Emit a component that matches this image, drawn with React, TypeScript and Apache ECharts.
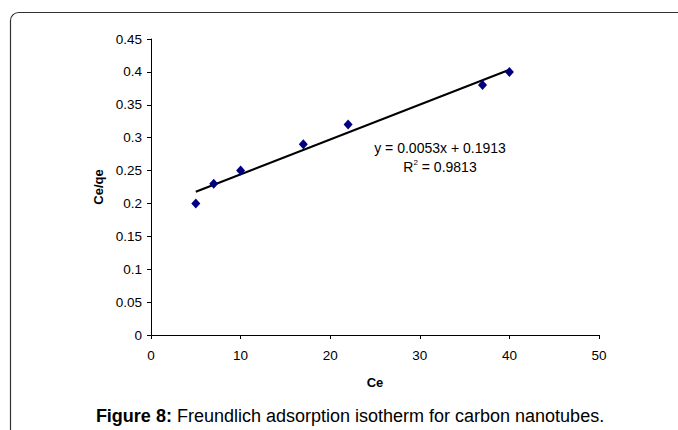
import React, { useEffect, useRef } from "react";
import * as echarts from "echarts";

const ceValues = [5, 7, 10, 17, 22, 37, 40];
const ceQeValues = [0.2, 0.23, 0.25, 0.29, 0.32, 0.38, 0.4];
const slope = 0.0053;
const intercept = 0.1913;
const trendRange = [5, 40];
const equationText = "y = 0.0053x + 0.1913";
const r2Text = "0.9813";
const captionBold = "Figure 8:";
const captionRest = " Freundlich adsorption isotherm for carbon nanotubes.";

export default function App() {
  const ref = useRef<HTMLDivElement>(null);
  useEffect(() => {
    const chart = echarts.init(ref.current!, null, { renderer: "svg" });
    const font = "Liberation Sans, Arial, sans-serif";
    const points = ceValues.map((x, i) => [x, ceQeValues[i]]);
    const trend = trendRange.map((x) => [x, slope * x + intercept]);
    chart.setOption({
      animation: false,
      backgroundColor: "#fff",
      textStyle: { fontFamily: font },
      grid: { left: 151, right: 79, top: 39, bottom: 95 },
      xAxis: {
        type: "value",
        min: 0,
        max: 50,
        interval: 10,
        name: "Ce",
        nameLocation: "middle",
        nameGap: 41,
        nameTextStyle: { fontWeight: "bold", fontSize: 13, color: "#000", fontFamily: font },
        axisLine: { lineStyle: { color: "#000", width: 1 } },
        axisTick: { show: true, length: 4, lineStyle: { color: "#000" } },
        axisLabel: { fontSize: 13.5, color: "#000", margin: 13, fontFamily: font },
        splitLine: { show: false },
      },
      yAxis: {
        type: "value",
        min: 0,
        max: 0.45,
        interval: 0.05,
        name: "Ce/qe",
        nameLocation: "middle",
        nameGap: 46,
        nameTextStyle: { fontWeight: "bold", fontSize: 13, color: "#000", fontFamily: font },
        axisLine: { show: true, lineStyle: { color: "#000", width: 1 } },
        axisTick: { show: true, length: 4, lineStyle: { color: "#000" } },
        axisLabel: { fontSize: 13.5, color: "#000", margin: 9, fontFamily: font },
        splitLine: { show: false },
      },
      series: [
        {
          type: "line",
          data: trend,
          symbol: "none",
          lineStyle: { color: "#000", width: 2 },
          z: 2,
        },
        {
          type: "scatter",
          data: points,
          symbol: "diamond",
          symbolSize: [9, 10],
          itemStyle: { color: "#000080", opacity: 1 },
          z: 3,
        },
      ],
      graphic: [
        {
          type: "rect",
          shape: { x: 10.5, y: 12.5, width: 720, height: 480, r: 8 },
          style: { fill: "none", stroke: "#333", lineWidth: 1.2 },
          silent: true,
        },
        {
          type: "text",
          x: 440,
          y: 148,
          style: {
            text: equationText,
            fill: "#000",
            font: `14px ${font}`,
            align: "center",
            verticalAlign: "middle",
          },
        },
        {
          type: "text",
          x: 440,
          y: 167,
          style: {
            text: "{a|R}{s|2}{a| = " + r2Text + "}",
            align: "center",
            verticalAlign: "middle",
            rich: {
              a: { fontSize: 14, fontFamily: font, color: "#000" },
              s: { fontSize: 8, fontFamily: font, color: "#000", padding: [0, 0, 9, 0] },
            },
          },
        },
        {
          type: "text",
          x: 350,
          y: 416,
          style: {
            text: "{b|" + captionBold + "}{n|" + captionRest + "}",
            align: "center",
            verticalAlign: "middle",
            rich: {
              b: { fontSize: 18, fontWeight: "bold", fontFamily: font, color: "#222" },
              n: { fontSize: 18, fontFamily: font, color: "#222" },
            },
          },
        },
      ],
    });
    return () => chart.dispose();
  }, []);
  return (
    <div
      ref={ref}
      style={{ position: "fixed", left: 0, top: 0, width: 678, height: 430 }}
    />
  );
}
